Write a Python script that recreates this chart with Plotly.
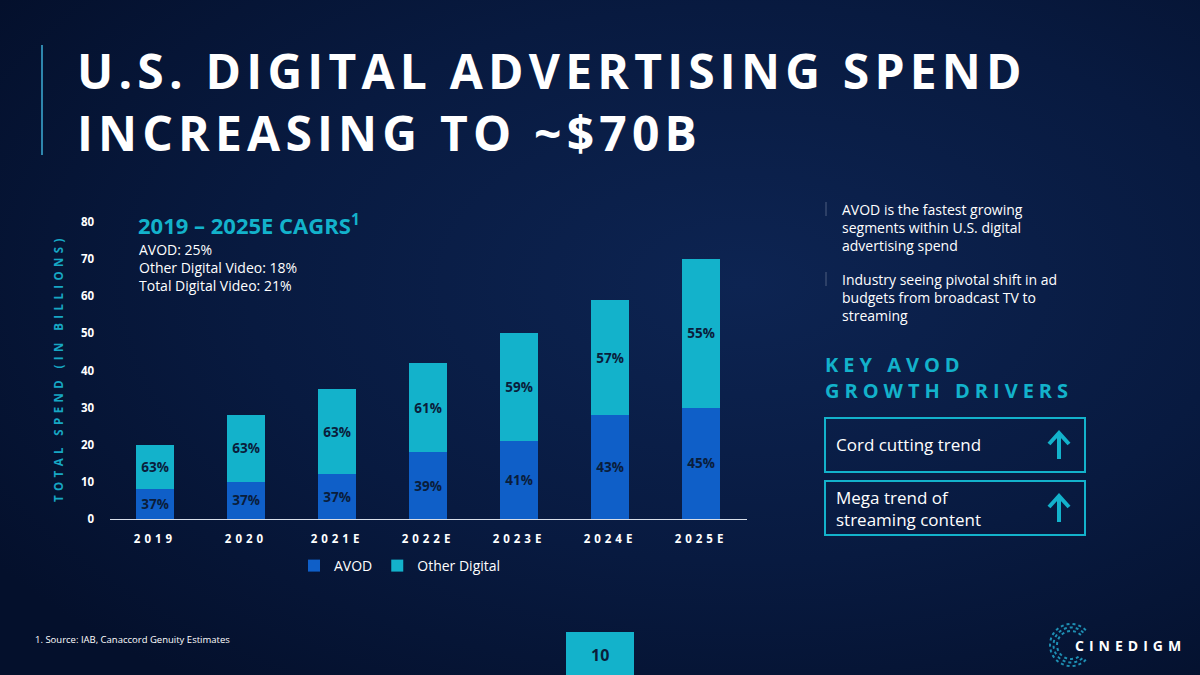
import base64
import numpy as np
import plotly.graph_objects as go

# chart values
years = ["2019", "2020", "2021E", "2022E", "2023E", "2024E", "2025E"]
avod = [8, 10, 12, 18, 21, 28, 30]
other_digital = [12, 18, 23, 24, 29, 31, 40]
avod_share = ["37%", "37%", "37%", "39%", "41%", "43%", "45%"]
other_share = ["63%", "63%", "63%", "61%", "59%", "57%", "55%"]
y_ticks = [0, 10, 20, 30, 40, 50, 60, 70, 80]

W, H = 1200, 675
BLUE = "#0f5fc8"
CYAN = "#13b2cb"
TEXT_DARK = "#0a1d3b"
FONT = "Open Sans"


def fx(x):
    return x / W


def fy(y):
    return 1 - y / H


def spaced(text, px):
    return f'<span style="letter-spacing:{px}px">{text}</span>'


fig = go.Figure()
fig.add_trace(go.Bar(
    x=years, y=avod, name="AVOD", marker=dict(color=BLUE, line_width=0),
    text=avod_share, textposition="inside", insidetextanchor="middle",
    textangle=0, textfont=dict(color=TEXT_DARK, size=13.5, family=FONT, weight="bold"),
    hoverinfo="skip"))
fig.add_trace(go.Bar(
    x=years, y=other_digital, name="Other Digital", marker=dict(color=CYAN, line_width=0),
    text=other_share, textposition="inside", insidetextanchor="middle",
    textangle=0, textfont=dict(color=TEXT_DARK, size=13.5, family=FONT, weight="bold"),
    hoverinfo="skip"))

# gradient background as an svg image
bg_svg = f'''<svg xmlns="http://www.w3.org/2000/svg" width="{W}" height="{H}">
<defs><radialGradient id="g" cx="0.62" cy="0.42" r="0.75">
<stop offset="0" stop-color="#0d2452"/><stop offset="0.55" stop-color="#081a40"/>
<stop offset="1" stop-color="#04102c"/></radialGradient></defs>
<rect width="{W}" height="{H}" fill="url(#g)"/></svg>'''
bg_uri = "data:image/svg+xml;base64," + base64.b64encode(bg_svg.encode()).decode()

shapes = [
    dict(type="line", xref="paper", yref="paper", x0=fx(42), x1=fx(42), y0=fy(45), y1=fy(155),
         line=dict(color="#2e86ad", width=2)),
    dict(type="line", xref="paper", yref="paper", x0=fx(826), x1=fx(826), y0=fy(202), y1=fy(216),
         line=dict(color="#4f5f80", width=1)),
    dict(type="line", xref="paper", yref="paper", x0=fx(826), x1=fx(826), y0=fy(272), y1=fy(286),
         line=dict(color="#4f5f80", width=1)),
    dict(type="rect", xref="paper", yref="paper", x0=fx(825), x1=fx(1085), y0=fy(418), y1=fy(472),
         line=dict(color=CYAN, width=2)),
    dict(type="rect", xref="paper", yref="paper", x0=fx(825), x1=fx(1085), y0=fy(481), y1=fy(535),
         line=dict(color=CYAN, width=2)),
    dict(type="rect", xref="paper", yref="paper", x0=fx(566), x1=fx(634), y0=fy(632), y1=fy(675),
         fillcolor=CYAN, line_width=0),
]

# up arrows inside the driver boxes
for cy in (445, 508):
    shapes.append(dict(type="line", xref="paper", yref="paper", x0=fx(1059), x1=fx(1059),
                       y0=fy(cy + 14), y1=fy(cy - 11), line=dict(color=CYAN, width=4)))
    shapes.append(dict(type="path", xref="paper", yref="paper",
                       path=f"M{fx(1049)},{fy(cy - 1)} L{fx(1059)},{fy(cy - 12)} L{fx(1069)},{fy(cy - 1)}",
                       line=dict(color=CYAN, width=4)))

# dotted "C" ring of the logo
ang = np.linspace(np.radians(45), np.radians(315), 40)
for r in (14, 17.5, 21):
    pts = [f"{fx(1071 + r * np.cos(a))},{fy(645 - r * np.sin(a))}" for a in ang]
    shapes.append(dict(type="path", xref="paper", yref="paper", path="M" + " L".join(pts),
                       line=dict(color="#1e8fb3", width=2, dash="dot")))

annotations = [
    dict(x=fx(75), y=fy(36), xanchor="left", yanchor="top", align="left",
         text=spaced("U.S. DIGITAL ADVERTISING SPEND", 5.2) + "<br>" + spaced("INCREASING TO ~$70B", 5.2),
         font=dict(family=FONT, size=48, color="white", weight="bold")),
    dict(x=fx(136), y=fy(225), xanchor="left", yanchor="middle", align="left",
         text="2019 – 2025E CAGRS<sup>1</sup>",
         font=dict(family=FONT, size=22, color=CYAN, weight="bold")),
    dict(x=fx(137), y=fy(238), xanchor="left", yanchor="top", align="left",
         text="AVOD: 25%<br>Other Digital Video: 18%<br>Total Digital Video: 21%",
         font=dict(family=FONT, size=14, color="white")),
    dict(x=fx(58), y=fy(368), xanchor="center", yanchor="middle", textangle=-90,
         text=spaced("TOTAL SPEND (IN BILLIONS)", 4.4),
         font=dict(family=FONT, size=11.5, color="#17a7c4", weight="bold")),
    dict(x=fx(840), y=fy(198), xanchor="left", yanchor="top", align="left",
         text="AVOD is the fastest growing<br>segments within U.S. digital<br>advertising spend",
         font=dict(family=FONT, size=14, color="white")),
    dict(x=fx(840), y=fy(268), xanchor="left", yanchor="top", align="left",
         text="Industry seeing pivotal shift in ad<br>budgets from broadcast TV to<br>streaming",
         font=dict(family=FONT, size=14, color="white")),
    dict(x=fx(823), y=fy(349), xanchor="left", yanchor="top", align="left",
         text=spaced("KEY AVOD", 5) + "<br>" + spaced("GROWTH DRIVERS", 5),
         font=dict(family=FONT, size=20, color=CYAN, weight="bold")),
    dict(x=fx(834), y=fy(445), xanchor="left", yanchor="middle", align="left",
         text="Cord cutting trend", font=dict(family=FONT, size=17, color="white")),
    dict(x=fx(834), y=fy(508), xanchor="left", yanchor="middle", align="left",
         text="Mega trend of<br>streaming content", font=dict(family=FONT, size=17, color="white")),
    dict(x=fx(33), y=fy(639), xanchor="left", yanchor="middle", align="left",
         text="1. Source: IAB, Canaccord Genuity Estimates",
         font=dict(family="Liberation Sans Narrow, Open Sans", size=9.5, color="white")),
    dict(x=fx(600), y=fy(655), xanchor="center", yanchor="middle",
         text="10", font=dict(family=FONT, size=16, color=TEXT_DARK, weight="bold")),
    dict(x=fx(1073), y=fy(645), xanchor="left", yanchor="middle",
         text=spaced("CINEDIGM", 5), font=dict(family=FONT, size=14, color="white", weight="bold")),
]
for a in annotations:
    a.update(xref="paper", yref="paper", showarrow=False)

fig.update_layout(
    width=W, height=H, margin=dict(l=0, r=0, t=0, b=0),
    paper_bgcolor="#071739", plot_bgcolor="rgba(0,0,0,0)",
    barmode="stack", bargap=0.59,
    font=dict(family=FONT, color="white"),
    images=[dict(source=bg_uri, xref="paper", yref="paper", x=0, y=1, sizex=1, sizey=1,
                 sizing="stretch", layer="below", xanchor="left", yanchor="top")],
    xaxis=dict(domain=[fx(109.5), fx(746.5)], automargin=False,
               tickmode="array", tickvals=years, ticktext=[spaced(y, 4) for y in years],
               tickfont=dict(size=11.5, color="white", weight="bold"),
               showline=True, linecolor="#d8dee9", linewidth=1, showgrid=False,
               ticks="outside", ticklen=9, tickcolor="rgba(0,0,0,0)", fixedrange=True),
    yaxis=dict(domain=[fy(519), fy(222)], range=[0, 80], automargin=False,
               tickmode="array", tickvals=y_ticks,
               tickfont=dict(size=11.5, color="white", weight="bold"),
               showgrid=False, zeroline=False, showline=False,
               ticks="outside", ticklen=12, tickcolor="rgba(0,0,0,0)", fixedrange=True),
    legend=dict(orientation="h", x=fx(400), y=fy(566), xanchor="center", yanchor="middle",
                font=dict(size=14, color="white"), itemwidth=30, traceorder="normal",
                bgcolor="rgba(0,0,0,0)"),
    shapes=shapes, annotations=annotations,
)

# drop the default page margin so the 1200x675 slide fills the window
fig.write_html("out.html", config={"displayModeBar": False},
               post_script="document.body.style.margin='0';")
